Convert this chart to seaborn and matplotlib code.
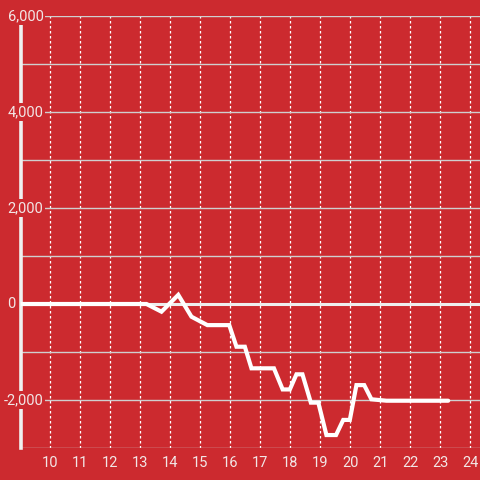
import matplotlib
matplotlib.use("Agg")
import matplotlib.pyplot as plt
import matplotlib.ticker as mticker
import matplotlib.transforms as mtransforms
import seaborn as sns
import pandas as pd

hours = [9.0, 13.2, 13.7, 14.26, 14.7, 15.23, 15.96, 16.2, 16.48, 16.7,
         17.45, 17.74, 17.98, 18.2, 18.4, 18.68, 18.93, 19.2, 19.52, 19.76,
         19.98, 20.2, 20.46, 20.7, 21.2, 23.26]
values = [0, 0, -160, 190, -265, -440, -440, -890, -890, -1340,
          -1340, -1780, -1780, -1465, -1465, -2055, -2055, -2730, -2730, -2415,
          -2415, -1690, -1690, -1985, -2015, -2015]
x_ticks = list(range(10, 25))
y_ticks = [-2000, 0, 2000, 4000, 6000]
y_labels = ["-2,000", "0", "2,000", "4,000", "6,000"]

RED = "#cc2a2f"
TXT = "#f2e6e6"

sns.set_theme(style="white")
plt.rcParams["font.family"] = ["Roboto", "DejaVu Sans"]

fig = plt.figure(figsize=(4.8, 4.8), dpi=100, facecolor=RED)
ax = fig.add_axes([20.5 / 480, 32 / 480, 1 - 20.5 / 480, 432 / 480])
ax.set_facecolor(RED)

df = pd.DataFrame({"hour": hours, "value": values})
sns.lineplot(data=df, x="hour", y="value", ax=ax, color="white",
             linewidth=3.0, sort=False, zorder=3, solid_joinstyle="miter")

ax.set_xlim(9, 24.32)
ax.set_ylim(-3000, 6000)
ax.set_xticks(x_ticks)
ax.set_yticks(y_ticks)
ax.yaxis.set_minor_locator(mticker.MultipleLocator(1000))
ax.set_yticklabels([])

ax.grid(axis="y", which="both", color="#cfcfcf", linewidth=1.0)
ax.grid(axis="x", which="major", color="white", linewidth=0.9, linestyle=(0, (2, 2)))
ax.axhline(0, color="#eeeeee", linewidth=2.2, zorder=2)

for s in ["top", "right", "bottom"]:
    ax.spines[s].set_visible(False)
ax.spines["left"].set_color("#f0f0f0")
ax.spines["left"].set_linewidth(2.6)
ax.spines["left"].set_zorder(1)

ax.tick_params(axis="both", which="both", length=0, labelcolor=TXT, labelsize=10.5)
ax.tick_params(axis="x", pad=6)
ax.set_xlabel("")
ax.set_ylabel("")

trans = mtransforms.blended_transform_factory(fig.transFigure, ax.transData)
for v, lab in zip(y_ticks, y_labels):
    xr = 15.5 if v == 0 else 43.5
    ax.text(xr / 480, v, lab, transform=trans, ha="right", va="center",
            color=TXT, fontsize=10.5, zorder=6, clip_on=False,
            bbox=dict(facecolor=RED, edgecolor="none", pad=1.2))

fig.savefig("out.png", dpi=100, facecolor=RED)
